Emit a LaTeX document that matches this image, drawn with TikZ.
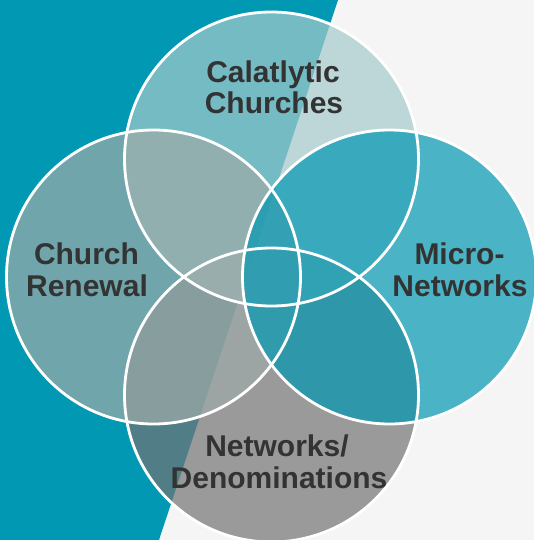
\documentclass[tikz,border=0pt]{standalone}
\usepackage{fontspec}
\setmainfont{Liberation Sans}
\definecolor{bgteal}{RGB}{0,152,178}
\definecolor{bggray}{RGB}{245,245,245}
\definecolor{ctop}{RGB}{166,202,203}
\definecolor{cleft}{RGB}{159,171,169}
\definecolor{cright}{RGB}{2,151,178}
\definecolor{cbot}{RGB}{116,116,116}
\definecolor{txt}{RGB}{51,51,51}
\begin{document}
\begin{tikzpicture}[x=1pt,y=-1pt,
  disc/.style={fill opacity=0.7},
  ring/.style={draw=white,line width=2.8pt},
  lbl/.style={font=\fontsize{30}{32}\selectfont\bfseries,text=txt,inner sep=0pt,anchor=base}]
\useasboundingbox (0,0) rectangle (534,540);
\clip (0,0) rectangle (534,540);
\fill[bggray] (0,0) rectangle (534,540);
\fill[bgteal] (0,0) -- (338,0) -- (159,540) -- (0,540) -- cycle;
\coordinate (ct) at (271.5,159);
\coordinate (cl) at (153.5,277);
\coordinate (cr) at (389.5,277);
\coordinate (cb) at (271.5,395);
\fill[disc,cbot] (cb) circle[radius=147pt];
\fill[disc,ctop] (ct) circle[radius=147pt];
\fill[disc,cleft] (cl) circle[radius=147pt];
\fill[disc,cright] (cr) circle[radius=147pt];
\draw[ring] (ct) circle[radius=147pt];
\draw[ring] (cl) circle[radius=147pt];
\draw[ring] (cr) circle[radius=147pt];
\draw[ring] (cb) circle[radius=147pt];
\node[lbl] (t1) at (273,83) {Calatlytic};
\node[lbl] (t2) at (274,114) {Churches};
\node[lbl] (l1) at (86.5,264) {Church};
\node[lbl] (l2) at (87,296) {Renewal};
\node[lbl] (r1) at (459.5,264) {Micro-};
\node[lbl] (r2) at (460,296) {Networks};
\node[lbl] (b1) at (277,456) {Networks/};
\node[lbl] (b2) at (279,488) {Denominations};
\end{tikzpicture}
\end{document}
